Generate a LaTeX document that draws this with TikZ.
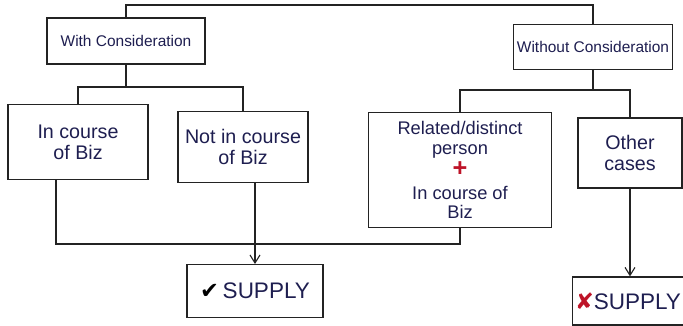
\documentclass[tikz,border=0pt]{standalone}
\usepackage{fontspec}
\setmainfont{Liberation Sans}
\newfontfamily\symfont{DejaVu Sans}
\definecolor{ink}{RGB}{30,30,80}
\definecolor{pen}{RGB}{35,35,35}
\definecolor{redink}{RGB}{190,20,40}
\usetikzlibrary{arrows.meta, positioning}

\begin{document}
\begin{tikzpicture}[
    x=0.025cm, y=-0.025cm,
    box/.style={draw=pen, thick, align=center, text=ink, inner sep=2pt, font=\fontsize{14}{15}\selectfont},
    head/.style={box, font=\fontsize{11}{12}\selectfont},
    res/.style={box, font=\fontsize{16}{18}\selectfont},
    arr/.style={-{Straight Barb[length=2mm, width=2.5mm]}, thick, draw=pen},
    wire/.style={thick, draw=pen}
]
    \useasboundingbox (0,0) rectangle (683,326);

    % headings
    \node[head, minimum width=3.95cm, minimum height=1.15cm] (withc) at (126,41) {With Consideration};
    \node[head, minimum width=3.97cm, minimum height=1.12cm] (withoutc) at (593,47) {Without Consideration};

    % cases
    \node[box, minimum width=3.5cm, minimum height=1.87cm] (incourse) at (78,142) {In course\\of Biz};
    \node[box, minimum width=3.25cm, minimum height=1.77cm] (notin) at (243,147) {Not in course\\of Biz};
    \node[box, minimum width=4.57cm, minimum height=2.87cm, font=\fontsize{13}{14}\selectfont] (related) at (460,170)
        {Related/distinct\\person\\[2pt]{\color{redink}\bfseries\fontsize{18}{14}\selectfont +}\\[2pt]In course of\\Biz};
    \node[box, minimum width=2.6cm, minimum height=1.75cm] (other) at (630,153) {Other\\cases};

    % results
    \node[res, minimum width=3.4cm, minimum height=1.32cm] (supok) at (255,291) {{\symfont\color{black}✔}\,SUPPLY};
    \node[res, minimum width=2.72cm, minimum height=1.2cm] (supno) at (628,301) {{\symfont\color{redink}✘}SUPPLY};

    \coordinate (root) at (360,5);
    \coordinate (wbr) at (127,87);
    \coordinate (wobr) at (579,90);
    \coordinate (join) at (56,244);

    \draw[wire] (withc.north) |- (root) -| (withoutc.north);
    \draw[wire] (withc.south) -- (withc.south |- wbr);
    \draw[wire] (incourse.north) |- (wbr) -| (notin.north);
    \draw[wire] (withoutc.south) -- (withoutc.south |- wobr);
    \draw[wire] (related.north) |- (wobr) -| (other.north);
    \draw[wire] (incourse.south -| join) -- (join) -| (related.south);
    \draw[arr] (notin.south -| supok.north) -- (supok.north);
    \draw[arr] (other.south) -- (other.south |- supno.north);
\end{tikzpicture}
\end{document}
